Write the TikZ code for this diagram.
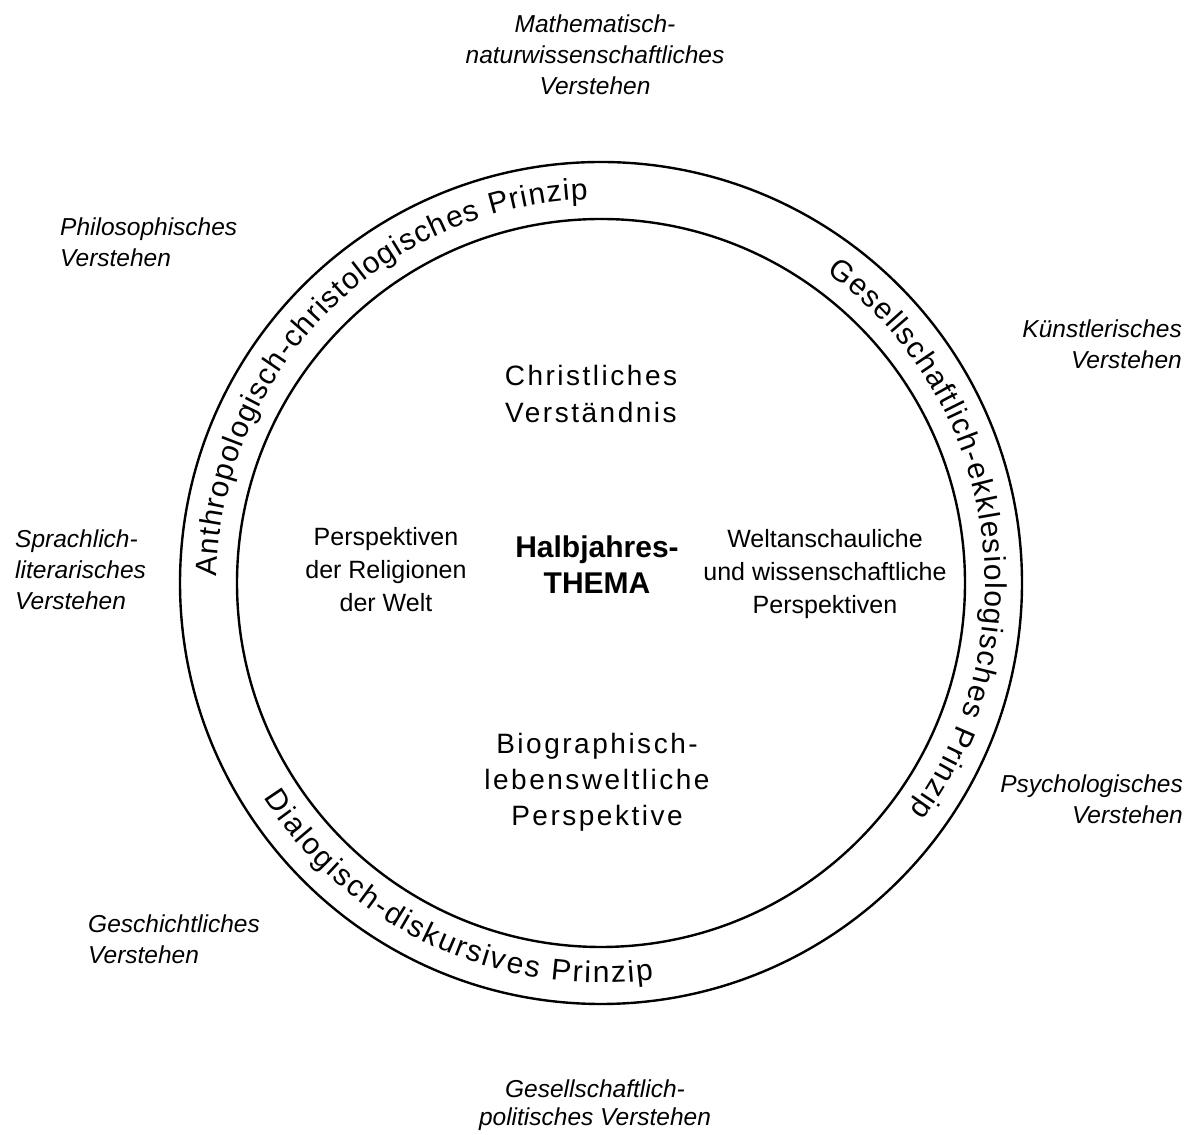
\documentclass[tikz,border=0pt]{standalone}
\usepackage{fontspec}
\setmainfont{Liberation Sans}
\usetikzlibrary{decorations.text}
\newcommand\ringtxtfont{\fontsize{30}{36}\selectfont}
\begin{document}
\begin{tikzpicture}[x=1pt,y=1pt,
  lbl/.style={font=\fontsize{24.5}{31}\selectfont\itshape, inner sep=0pt},
  bigtxt/.style={font=\fontsize{28}{37}\selectfont\addfontfeature{LetterSpace=9}, inner sep=0pt, align=center, anchor=north},
  persp/.style={font=\fontsize{25}{33}\selectfont, inner sep=0pt, align=center, anchor=north},
  themetxt/.style={font=\fontsize{30}{36}\selectfont\bfseries, inner sep=0pt, align=center, anchor=north},
  ringline/.style={circle, draw, line width=2.4pt, inner sep=0pt},
  ringtext/.style={decorate, decoration={text along path, text align={fit to path}, text={|\ringtxtfont|#1}}},
]
\useasboundingbox (0,0) rectangle (1200,1135);
\coordinate (c) at (601,552);
\node[ringline, minimum size=842pt] (outer) at (c) {};
\node[ringline, minimum size=728pt] (inner) at (c) {};

\begin{scope}[shift={(c)}]
  \path[ringtext={Anthropologisch-christologisches Prinzip}] (179:384) arc[start angle=179, end angle=92, radius=384];
  \path[ringtext={Gesellschaftlich-ekklesiologisches Prinzip}] (54:384) arc[start angle=54, end angle=-36.5, radius=384];
  \path[ringtext={Dialogisch-diskursives Prinzip}] (212.5:400) arc[start angle=212.5, end angle=277.5, radius=400];
\end{scope}

\node[bigtxt] (christ) at (591,770.2) {Christliches\\Verständnis};
\node[bigtxt, font=\fontsize{28}{36}\selectfont\addfontfeature{LetterSpace=9}] (bio) at (597,402.2) {Biographisch-\\lebensweltliche\\Perspektive};
\node[persp] (rel) at (386,608) {Perspektiven\\der Religionen\\der Welt};
\node[persp] (welt) at (825,606) {Weltanschauliche\\und wissenschaftliche\\Perspektiven};
\node[themetxt] (thema) at (597,599.5) {Halbjahres-\\THEMA};

\node[lbl, anchor=north, align=center] (math) at (595,1120.6) {Mathematisch-\\naturwissenschaftliches\\Verstehen};
\node[lbl, anchor=north west, align=left] (philo) at (60,917.6) {Philosophisches\\Verstehen};
\node[lbl, anchor=north east, align=right] (kunst) at (1182,815.6) {Künstlerisches\\Verstehen};
\node[lbl, anchor=north west, align=left] (sprach) at (15,605.6) {Sprachlich-\\literarisches\\Verstehen};
\node[lbl, anchor=north east, align=right] (psych) at (1183,360.6) {Psychologisches\\Verstehen};
\node[lbl, anchor=north west, align=left] (gesch) at (88,220.6) {Geschichtliches\\Verstehen};
\node[lbl, anchor=north, align=center, font=\fontsize{24.5}{28}\selectfont\itshape] (polit) at (595,55.6) {Gesellschaftlich-\\politisches Verstehen};
\end{tikzpicture}
\end{document}
